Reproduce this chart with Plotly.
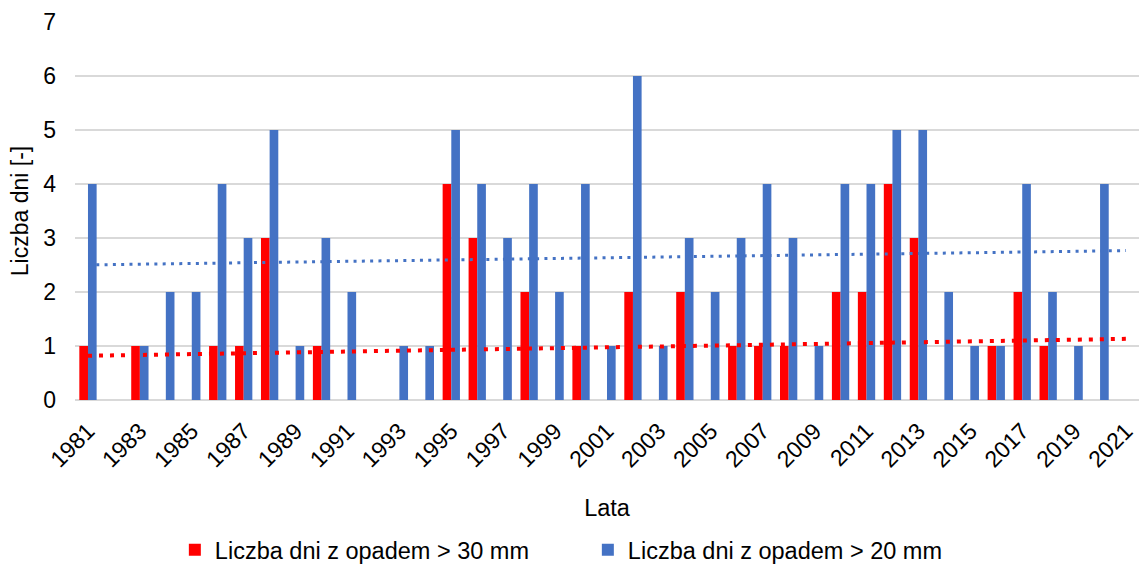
import numpy as np
import plotly.graph_objects as go

years = list(range(1981, 2022))
year_labels = [str(y) for y in years]

days_over_30 = [1, 0, 1, 0, 0, 1, 1, 3, 0, 1, 0, 0, 0, 0, 4, 3, 0, 2, 0, 1,
                0, 2, 0, 2, 0, 1, 1, 1, 0, 2, 2, 4, 3, 0, 0, 1, 2, 1, 0, 0, 0]
days_over_20 = [4, 0, 1, 2, 2, 4, 3, 5, 1, 3, 2, 0, 1, 1, 5, 4, 3, 4, 2, 4,
                1, 6, 1, 3, 2, 3, 4, 3, 1, 4, 4, 5, 5, 2, 1, 1, 4, 2, 1, 4, 0]

tick_years = year_labels[::2]

name_30 = "Liczba dni z opadem > 30 mm"
name_20 = "Liczba dni z opadem > 20 mm"

RED = "#FF0000"
BLUE = "#4472C4"
FONT = "Liberation Sans, Arial, sans-serif"

# linear trendlines (as Excel's "linear trendline")
xi = np.arange(len(years))
c30 = np.polyfit(xi, days_over_30, 1)
c20 = np.polyfit(xi, days_over_20, 1)
trend_30 = np.polyval(c30, xi)
trend_20 = np.polyval(c20, xi)

fig = go.Figure()
fig.add_trace(go.Bar(x=year_labels, y=days_over_30, name=name_30,
                     marker=dict(color=RED, line=dict(width=0))))
fig.add_trace(go.Bar(x=year_labels, y=days_over_20, name=name_20,
                     marker=dict(color=BLUE, line=dict(width=0))))
fig.add_trace(go.Scatter(x=year_labels, y=trend_30, mode="lines",
                         line=dict(color=RED, width=4, dash="4px,7px"),
                         showlegend=False, hoverinfo="skip"))
fig.add_trace(go.Scatter(x=year_labels, y=trend_20, mode="lines",
                         line=dict(color=BLUE, width=3, dash="3px,5.3px"),
                         showlegend=False, hoverinfo="skip"))

fig.update_layout(
    width=1139, height=564,
    margin=dict(l=75, r=0, t=22, b=164, autoexpand=False),
    paper_bgcolor="white", plot_bgcolor="white",
    barmode="group", bargap=0.333, bargroupgap=0,
    font=dict(family=FONT, size=23, color="#000000"),
    legend=dict(orientation="h", x=0.482, xanchor="center",
                yref="paper", y=-0.397, yanchor="middle",
                font=dict(size=23.5), itemwidth=30,
                entrywidth=368, entrywidthmode="pixels",
                traceorder="normal"),
    showlegend=True,
)

fig.update_xaxes(
    type="category", range=[-0.5, len(years) - 0.5],
    tickmode="array", tickvals=tick_years, ticktext=tick_years,
    tickangle=-45, tickfont=dict(size=23), ticklabelstandoff=12,
    showgrid=False, showline=False, ticks="", automargin=False,
    title=dict(text="Lata", font=dict(size=23.5), standoff=28),
)
fig.update_yaxes(
    range=[0, 7], dtick=1, tick0=0,
    showgrid=True, gridcolor="#D9D9D9", gridwidth=1.5,
    zeroline=True, zerolinecolor="#D9D9D9", zerolinewidth=1.5,
    showline=False, ticks="", ticklabelstandoff=18, automargin=False,
    tickfont=dict(size=23),
    title=dict(text="Liczba dni [-]", font=dict(size=23), standoff=8),
)

fig.write_html("out.html",
               config={"displayModeBar": False},
               post_script="document.body.style.margin='0';"
                           "document.body.style.padding='0';")
